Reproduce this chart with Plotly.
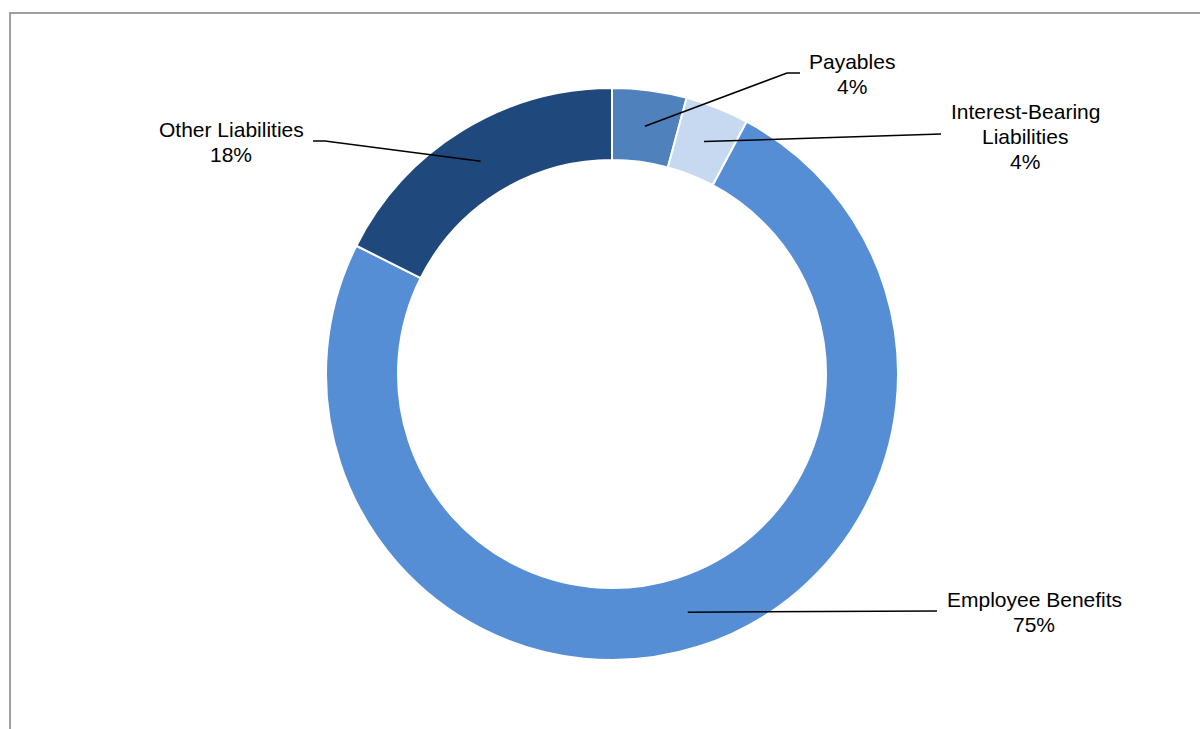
import math
import plotly.graph_objects as go

# Liabilities breakdown (percent of total)
categories = ["Payables", "Interest-Bearing Liabilities", "Employee Benefits", "Other Liabilities"]
label_lines = [["Payables"], ["Interest-Bearing", "Liabilities"], ["Employee Benefits"], ["Other Liabilities"]]
values = [4.2, 3.6, 74.6, 17.6]
colors = ["#4F81BD", "#C6D9F1", "#558ED5", "#1F497D"]

W, H = 1200, 729
CX, CY = 612, 374          # donut centre (px)
R_OUT, R_IN = 286, 214     # ring radii (px)
LINE_H = 25                # label line spacing (px)

def px(x):
    return x / W

def py(y):
    return 1 - y / H

fig = go.Figure(go.Pie(
    labels=categories,
    values=values,
    hole=R_IN / R_OUT,
    sort=False,
    direction="clockwise",
    rotation=0,
    textinfo="none",
    hoverinfo="label+percent",
    marker=dict(colors=colors, line=dict(color="white", width=2)),
    domain=dict(x=[px(CX - R_OUT), px(CX + R_OUT)], y=[py(CY + R_OUT), py(CY - R_OUT)]),
    showlegend=False,
))

# label placement: elbow points of the leader line (px) and label block centre (px)
label_layout = {
    "Payables": dict(path=[(787, 73), (800, 73)], text=(852, 74)),
    "Interest-Bearing Liabilities": dict(path=[(941, 134)], text=(1025, 136.5)),
    "Employee Benefits": dict(path=[(937, 611)], text=(1034, 611.5)),
    "Other Liabilities": dict(path=[(325, 141), (313, 141)], text=(231, 142)),
}

font = dict(family="Liberation Sans, Arial, sans-serif", size=21, color="black")

total = sum(values)
shapes = []
annotations = []
cum = 0.0
r_mid = (R_OUT + R_IN) / 2
for cat, lines, v in zip(categories, label_lines, values):
    mid = (cum + v / 2) / total * 2 * math.pi
    cum += v
    ax = CX + r_mid * math.sin(mid)
    ay = CY - r_mid * math.cos(mid)
    pts = [(ax, ay)] + label_layout[cat]["path"]
    path = "M " + " L ".join(f"{px(x):.5f},{py(y):.5f}" for x, y in pts)
    shapes.append(dict(type="path", xref="paper", yref="paper", path=path,
                       line=dict(color="black", width=1.5)))
    text_lines = lines + [f"{v / total * 100:.0f}%"]
    tx, ty = label_layout[cat]["text"]
    y0 = ty - (len(text_lines) - 1) * LINE_H / 2
    for i, t in enumerate(text_lines):
        annotations.append(dict(
            x=px(tx), y=py(y0 + i * LINE_H), xref="paper", yref="paper",
            text=t, showarrow=False, xanchor="center", yanchor="middle",
            font=font,
        ))

# chart area frame
shapes.append(dict(type="rect", xref="paper", yref="paper",
                   x0=px(10), y0=py(760), x1=px(1230), y1=py(13),
                   line=dict(color="#808080", width=1.5), fillcolor="rgba(0,0,0,0)", layer="below"))

fig.update_layout(
    width=W, height=H,
    margin=dict(l=0, r=0, t=0, b=0),
    paper_bgcolor="white",
    plot_bgcolor="white",
    shapes=shapes,
    annotations=annotations,
)

fig.write_html("out.html")
